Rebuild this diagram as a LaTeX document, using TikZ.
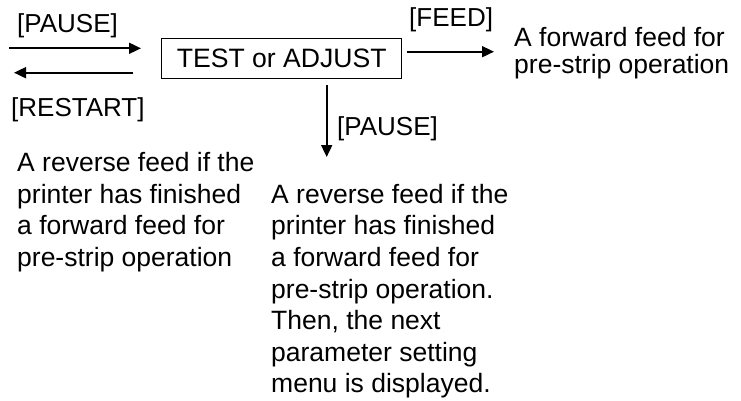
\documentclass[tikz,border=0pt]{standalone}
\usepackage{fontspec}
\setmainfont{Liberation Sans}
\usetikzlibrary{arrows.meta}
\begin{document}
\begin{tikzpicture}[x=1pt,y=-1pt,
  lbl/.style={inner sep=0pt, font=\fontsize{26}{31.5}\selectfont},
  para/.style={inner sep=0pt, align=left, font=\fontsize{26.5}{31.6}\selectfont},
  conn/.style={line width=1.8pt, -{Triangle[length=12pt,width=11pt]}},
  boxed/.style={draw, line width=1.3pt, minimum width=240pt, minimum height=40pt, inner sep=0pt, font=\fontsize{26.6}{31.5}\selectfont}]
\useasboundingbox (0,0) rectangle (741,400);
% box
\node[boxed] (box) at (281.7,58.3) {TEST or ADJUST};
% left arrows
\coordinate (pin1) at (9,48.3);
\coordinate (pin2) at (141,48.3);
\coordinate (rs1) at (133,72.7);
\coordinate (rs2) at (14,72.7);
\draw[conn] (pin1) -- (pin2);
\draw[conn] (rs1) -- (rs2);
\node[lbl, anchor=base west] (pause1) at (17,32.7) {[PAUSE]};
\node[lbl, anchor=base west] (restart) at (11,116.7) {[RESTART]};
% right arrow
\coordinate (fd1) at (406.7,51.7);
\coordinate (fd2) at (494,51.7);
\draw[conn] (fd1) -- (fd2);
\node[lbl, anchor=base west] (feed) at (409,26.7) {[FEED]};
\node[para, anchor=base west, font=\fontsize{26.5}{26.7}\selectfont] (fwd) at (514,73.4) {A forward feed for\\pre-strip operation};
% down arrow
\coordinate (dn1) at (326.7,85);
\coordinate (dn2) at (326.7,157);
\draw[conn] (dn1) -- (dn2);
\node[lbl, anchor=base west] (pause2) at (337,135) {[PAUSE]};
% text blocks (base anchor = last line)
\node[para, anchor=base west] (revL) at (17,266.5) {A reverse feed if the\\printer has finished\\a forward feed for\\pre-strip operation};
\node[para, anchor=base west] (revR) at (271,392.9) {A reverse feed if the\\printer has finished\\a forward feed for\\pre-strip operation.\\Then, the next\\parameter setting\\menu is displayed.};
\end{tikzpicture}
\end{document}
